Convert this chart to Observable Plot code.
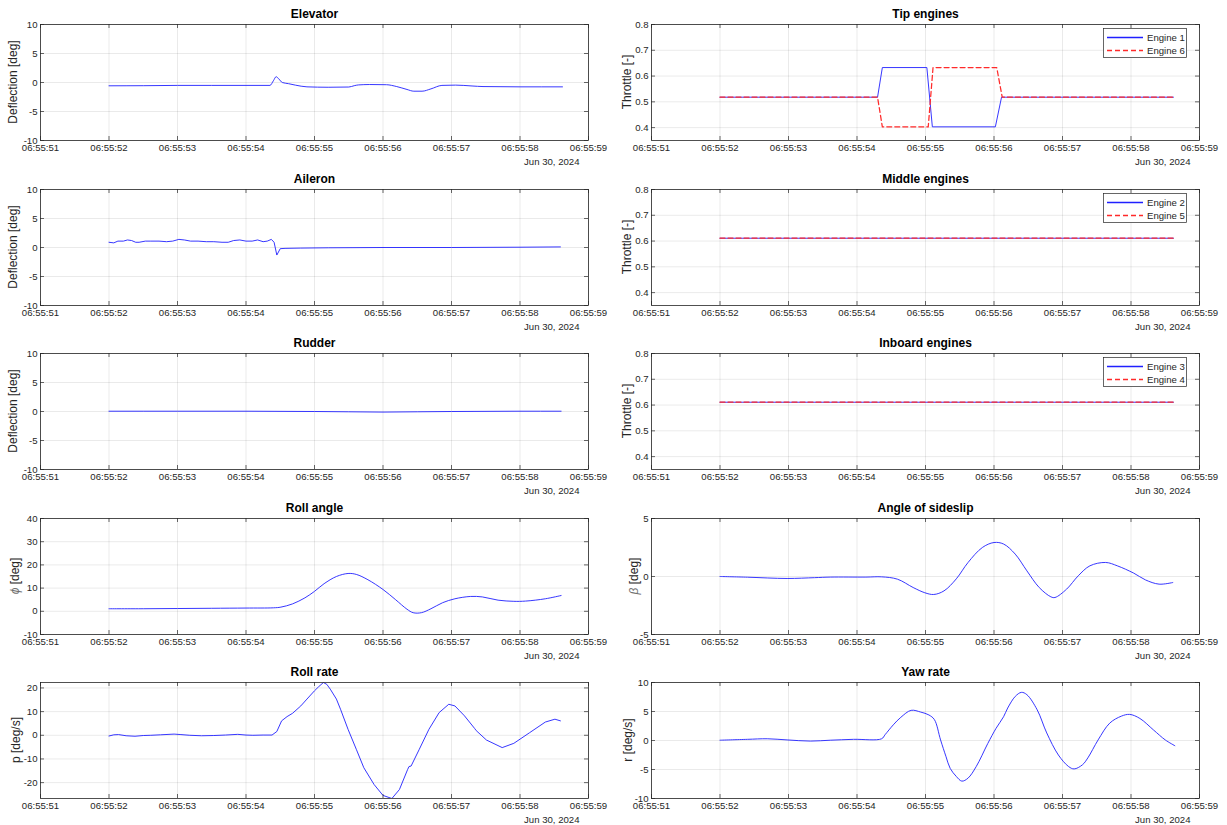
<!DOCTYPE html>
<html><head><meta charset="utf-8">
<script src="https://cdn.jsdelivr.net/npm/d3@7"></script>
<script src="https://cdn.jsdelivr.net/npm/@observablehq/plot@0.6"></script>
<style>
body{margin:0;background:#fff;}
#fig{position:relative;width:1227px;height:825px;background:#fff;overflow:hidden;}
#fig svg{position:absolute;overflow:visible;}
</style></head><body><div id="fig"></div>
<script>
// ---- data (time in seconds after 06:55:52, Jun 30 2024) ----
const xTickSeconds = [51,52,53,54,55,56,57,58,59];
const dateLabel = "Jun 30, 2024";

const elevT = [0,0.5,1.0,1.5,2.0,2.35,2.40,2.44,2.48,2.53,2.62,2.72,2.89,3.2,3.5,3.58,3.64,3.8,4.05,4.2,4.35,4.45,4.57,4.7,4.86,5.06,5.3,5.46,6.0,6.62];
const elevV = [-0.57,-0.55,-0.5,-0.5,-0.5,-0.5,0.3,1.0,0.6,0.0,-0.2,-0.45,-0.75,-0.82,-0.78,-0.55,-0.42,-0.35,-0.38,-0.7,-1.2,-1.5,-1.5,-1.1,-0.5,-0.45,-0.6,-0.7,-0.75,-0.75];

const ailT = [0,0.07,0.13,0.21,0.27,0.33,0.39,0.44,0.53,0.61,0.73,0.84,0.93,1.02,1.10,1.19,1.30,1.42,1.53,1.65,1.74,1.82,1.91,2.0,2.09,2.17,2.25,2.31,2.37,2.41,2.45,2.5,2.57,2.8,3.2,4,5,6,6.59];
const ailV = [0.9,0.8,1.1,1.1,1.3,1.2,0.9,0.9,1.1,1.1,1.1,1.0,1.1,1.4,1.3,1.1,1.1,1.0,1.0,0.9,0.9,1.2,1.3,1.1,1.1,1.3,1.0,1.1,1.4,0.9,-1.3,-0.2,-0.15,-0.1,-0.05,0.0,0.0,0.05,0.1];

const rudT = [0,1,2,3,3.5,4.0,4.5,5,6,6.6];
const rudV = [0.05,0.05,0.05,0.0,-0.05,-0.1,-0.05,0.0,0.05,0.05];

const rollT = [0,0.5,1.0,1.5,2.0,2.4,2.51,2.68,2.86,3.0,3.14,3.32,3.49,3.61,3.78,4.0,4.18,4.35,4.44,4.56,4.70,4.87,5.05,5.28,5.45,5.68,5.91,6.08,6.37,6.6];
const rollV = [1.1,1.1,1.2,1.3,1.4,1.5,1.8,3.2,5.8,8.6,11.9,15.0,16.3,15.9,13.6,9.4,5.1,0.9,-0.6,-0.6,1.1,3.7,5.4,6.4,6.2,4.8,4.3,4.4,5.4,6.8];

const pT = [0,0.07,0.14,0.25,0.38,0.5,0.61,0.75,0.95,1.05,1.18,1.35,1.53,1.7,1.88,2.0,2.1,2.25,2.38,2.45,2.52,2.6,2.68,2.8,2.89,3.0,3.06,3.13,3.18,3.23,3.32,3.38,3.49,3.61,3.72,3.87,4.0,4.13,4.24,4.36,4.38,4.41,4.53,4.67,4.82,4.96,5.05,5.19,5.34,5.36,5.51,5.74,5.91,6.14,6.37,6.51,6.59];
const pV = [-0.3,0.2,0.3,-0.2,-0.4,-0.1,0,0.2,0.5,0.3,0,-0.2,-0.1,0.1,0.4,0.1,0,0.1,0.1,1.6,6.1,7.9,9.3,12.4,15.3,18.8,20.5,22.3,21.5,19.5,15.3,11,2.5,-5.9,-13.7,-20.8,-25.4,-26.7,-22.9,-14.4,-13.2,-13,-5.9,2.5,9.6,13.1,12.4,8.2,2.8,2.0,-2,-5.2,-3.4,1.1,5.6,6.8,6.1];

const e1T = [0,2.30,2.37,3.02,3.10,4.02,4.11,6.62];
const e1V = [0.518,0.518,0.633,0.633,0.403,0.403,0.518,0.518];
const e6T = [0,2.30,2.37,3.04,3.11,4.04,4.12,6.62];
const e6V = [0.518,0.518,0.403,0.403,0.633,0.633,0.518,0.518];
const e2T = [0,6.62], e2V = [0.611,0.611];
const e5T = [0,6.62], e5V = [0.611,0.611];
const e3T = [0,6.62], e3V = [0.611,0.611];
const e4T = [0,6.62], e4V = [0.611,0.611];

const betaT = [0,0.4,0.98,1.38,1.61,2.13,2.36,2.59,2.82,2.99,3.12,3.27,3.45,3.62,3.83,4.0,4.14,4.31,4.48,4.66,4.83,4.89,5.06,5.23,5.4,5.63,5.8,6.04,6.21,6.41,6.61];
const betaV = [0,-0.06,-0.17,-0.1,-0.05,-0.05,-0.03,-0.23,-0.95,-1.4,-1.55,-1.24,-0.2,1.2,2.5,2.93,2.8,1.93,0.49,-0.95,-1.75,-1.81,-1.09,0.06,0.92,1.21,0.92,0.29,-0.29,-0.66,-0.52];

const rT = [0,0.4,0.69,0.98,1.32,1.61,1.95,2.36,2.41,2.53,2.64,2.79,2.93,3.05,3.13,3.22,3.3,3.36,3.45,3.53,3.62,3.74,3.91,4.03,4.14,4.2,4.31,4.4,4.48,4.63,4.77,4.94,5.09,5.17,5.29,5.37,5.52,5.69,5.86,5.98,6.13,6.33,6.5,6.64];
const rV = [0.05,0.2,0.3,0.1,-0.1,0.05,0.2,0.3,1.0,2.7,4.0,5.2,4.9,4.4,3.6,0.1,-2.8,-4.8,-6.2,-7.0,-6.5,-4.5,-0.5,2.1,4.1,5.6,7.6,8.3,7.9,5.3,1.3,-2.5,-4.5,-4.9,-4.2,-3.0,0.1,3.0,4.2,4.5,3.8,1.8,0.1,-0.9];

const deflTicks = [-10,-5,0,5,10];
const thrTicks = [0.4,0.5,0.6,0.7,0.8];
const rollTicks = [-10,0,10,20,30,40];
const pTicks = [-20,-10,0,10,20];
const betaTicks = [-5,0,5];
const rTicks = [-10,-5,0,5,10];

// ---- helpers ----
const BLUE = "#2020ff", RED = "#ff2a2a", AX = "#262626";
const FONT = "'Liberation Sans', Arial, Helvetica, sans-serif";
const tsec = s => new Date(Date.UTC(2024,5,30,6,55,52) + Math.round(s*1000));
const xTicks = xTickSeconds.map(s => new Date(Date.UTC(2024,5,30,6,55,s)));
const zip = (ts, vs) => ts.map((t,i) => ({t: tsec(t), v: vs[i]}));
const fmtTime = d3.utcFormat("%H:%M:%S");

const fig = document.getElementById("fig");
const ROW = 164.5;

function panel(o) {
  const W = o.col === 0 ? 612 : 615;
  const ml = o.col === 0 ? 40 : 39, mr = o.col === 0 ? 24 : 28;
  const H = 165, mt = 24, mb = 25;
  const fw = W - ml - mr, fh = H - mt - mb;
  const top = Math.round(o.row * ROW);
  const marks = [
    Plot.gridX(xTicks, {stroke: "#000", strokeOpacity: 0.12, strokeWidth: 0.7}),
    Plot.gridY(o.yTicks, {stroke: "#000", strokeOpacity: 0.12, strokeWidth: 0.7}),
    ...o.series.map(s => Plot.line(s.data, {x: "t", y: "v", stroke: s.color, strokeWidth: s.dash ? 1.25 : 0.9,
        strokeDasharray: s.dash || null, curve: s.curve || "linear", clip: true})),
    Plot.tickX(xTicks, {x: d => d, insetBottom: fh - 4, stroke: AX, strokeWidth: 0.7}),
    Plot.tickX(xTicks, {x: d => d, insetTop: fh - 4, stroke: AX, strokeWidth: 0.7}),
    Plot.tickY(o.yTicks, {y: d => d, insetRight: fw - 4, stroke: AX, strokeWidth: 0.7}),
    Plot.tickY(o.yTicks, {y: d => d, insetLeft: fw - 4, stroke: AX, strokeWidth: 0.7}),
    Plot.frame({stroke: AX, strokeWidth: 0.8}),
    Plot.axisX(xTicks, {tickSize: 0, tickPadding: 4, tickFormat: fmtTime, label: null, fill: AX, fontSize: 9.6}),
    Plot.axisY(o.yTicks, {tickSize: 0, tickPadding: 3, tickFormat: o.fmt, label: null, fill: AX, fontSize: 9.6}),
    Plot.text([o.title], {frameAnchor: "top", dy: -7, lineAnchor: "bottom", fontWeight: "bold", fontSize: 12, fill: "#000"}),
    Plot.text([dateLabel], {frameAnchor: "bottom-right", dx: -9, dy: 21, textAnchor: "end", lineAnchor: "middle", fontSize: 9.6, fill: AX})
  ];
  const svg = Plot.plot({
    width: W, height: H, marginLeft: ml, marginRight: mr, marginTop: mt, marginBottom: mb,
    x: {type: "utc", domain: [xTicks[0], xTicks[xTicks.length-1]]},
    y: {domain: o.yDomain},
    style: {fontFamily: FONT, fontSize: "9.6px", color: AX, background: "transparent", overflow: "visible"},
    marks
  });
  svg.style.left = (o.col === 0 ? 0 : 612) + "px";
  svg.style.top = top + "px";
  const sel = d3.select(svg);
  // y label
  const yl = sel.append("text")
    .attr("transform", `translate(${ml - o.labelOffset},${mt + fh/2}) rotate(-90)`)
    .attr("text-anchor", "middle").attr("dy", "0.35em")
    .attr("font-size", 12).attr("fill", AX).attr("font-family", FONT);
  if (o.greek) {
    yl.append("tspan").attr("font-style", "italic").attr("fill", "#707070").text(o.greek);
    yl.append("tspan").text(" " + o.ylabel);
  } else yl.text(o.ylabel);
  // legend
  if (o.legend) {
    const lw = 83, lh = 29, x0 = ml + fw - 13 - lw, y0 = mt + 4.5;
    const g = sel.append("g");
    g.append("rect").attr("x", x0 + 0.5).attr("y", y0).attr("width", lw).attr("height", lh)
      .attr("fill", "#fff").attr("stroke", AX).attr("stroke-width", 0.7);
    o.series.forEach((s, i) => {
      const y = y0 + 9 + i * 13;
      g.append("line").attr("x1", x0 + 4).attr("x2", x0 + 40).attr("y1", y).attr("y2", y)
        .attr("stroke", s.color).attr("stroke-width", 1.5).attr("stroke-dasharray", s.dash || null);
      g.append("text").attr("x", x0 + 44).attr("y", y).attr("dy", "0.35em").attr("text-anchor", "start")
        .attr("font-size", 9.6).attr("fill", AX).attr("font-family", FONT).text(s.label);
    });
  }
  fig.appendChild(svg);
}

const intFmt = d => String(d);
const decFmt = d => d.toFixed(1);

panel({col:0,row:0,title:"Elevator",yDomain:[-10,10],yTicks:deflTicks,fmt:intFmt,ylabel:"Deflection [deg]",labelOffset:27,
  series:[{data:zip(elevT,elevV),color:BLUE,curve:"monotone-x"}]});
panel({col:0,row:1,title:"Aileron",yDomain:[-10,10],yTicks:deflTicks,fmt:intFmt,ylabel:"Deflection [deg]",labelOffset:27,
  series:[{data:zip(ailT,ailV),color:BLUE}]});
panel({col:0,row:2,title:"Rudder",yDomain:[-10,10],yTicks:deflTicks,fmt:intFmt,ylabel:"Deflection [deg]",labelOffset:27,
  series:[{data:zip(rudT,rudV),color:BLUE,curve:"monotone-x"}]});
panel({col:0,row:3,title:"Roll angle",yDomain:[-10,40],yTicks:rollTicks,fmt:intFmt,greek:"ϕ",ylabel:"[deg]",labelOffset:25,
  series:[{data:zip(rollT,rollV),color:BLUE,curve:"catmull-rom"}]});
panel({col:0,row:4,title:"Roll rate",yDomain:[-26.7,22.3],yTicks:pTicks,fmt:intFmt,ylabel:"p [deg/s]",labelOffset:24,
  series:[{data:zip(pT,pV),color:BLUE}]});

panel({col:1,row:0,title:"Tip engines",yDomain:[0.35,0.8],yTicks:thrTicks,fmt:decFmt,ylabel:"Throttle [-]",labelOffset:24,legend:true,
  series:[{data:zip(e1T,e1V),color:BLUE,label:"Engine 1"},{data:zip(e6T,e6V),color:RED,dash:"5,3",label:"Engine 6"}]});
panel({col:1,row:1,title:"Middle engines",yDomain:[0.35,0.8],yTicks:thrTicks,fmt:decFmt,ylabel:"Throttle [-]",labelOffset:24,legend:true,
  series:[{data:zip(e2T,e2V),color:BLUE,label:"Engine 2"},{data:zip(e5T,e5V),color:RED,dash:"5,3",label:"Engine 5"}]});
panel({col:1,row:2,title:"Inboard engines",yDomain:[0.35,0.8],yTicks:thrTicks,fmt:decFmt,ylabel:"Throttle [-]",labelOffset:24,legend:true,
  series:[{data:zip(e3T,e3V),color:BLUE,label:"Engine 3"},{data:zip(e4T,e4V),color:RED,dash:"5,3",label:"Engine 4"}]});
panel({col:1,row:3,title:"Angle of sideslip",yDomain:[-5,5],yTicks:betaTicks,fmt:intFmt,greek:"β",ylabel:"[deg]",labelOffset:17,
  series:[{data:zip(betaT,betaV),color:BLUE,curve:"catmull-rom"}]});
panel({col:1,row:4,title:"Yaw rate",yDomain:[-10,10],yTicks:rTicks,fmt:intFmt,ylabel:"r [deg/s]",labelOffset:23,
  series:[{data:zip(rT,rV),color:BLUE,curve:"catmull-rom"}]});
</script></body></html>
